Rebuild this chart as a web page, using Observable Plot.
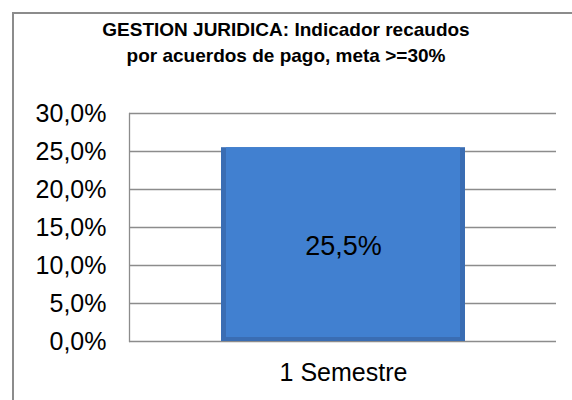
<!DOCTYPE html>
<html><head><meta charset="utf-8">
<script src="https://cdn.jsdelivr.net/npm/d3@7"></script>
<script src="https://cdn.jsdelivr.net/npm/@observablehq/plot@0.6"></script>
<style>
body{margin:0;background:#fff;font-family:"Liberation Sans",Arial,sans-serif;}
#wrap{position:relative;width:572px;height:400px;overflow:hidden;}
#frame{position:absolute;left:12px;top:12px;width:700px;height:500px;border-left:2px solid #8c8c8c;border-top:2px solid #8c8c8c;}
#title{position:relative;height:80px;box-sizing:border-box;padding-top:17px;text-align:center;font-weight:bold;font-size:19px;line-height:26px;color:#000;}
#chart{position:relative;}
</style></head><body>
<div id="wrap"><div id="frame"></div><div id="title">GESTION JURIDICA: Indicador recaudos<br>por acuerdos de pago, meta &gt;=30%</div><div id="chart"></div></div>
<script>
const categories = ["1 Semestre"];
const values = [0.255];
const labels = ["25,5%"];
const yTicks = [0, 0.05, 0.10, 0.15, 0.20, 0.25, 0.30];
const data = categories.map((c, i) => ({category: c, value: values[i], label: labels[i]}));
const fmt = d => d3.format(".1f")(d * 100).replace(".", ",") + "%";

const chart = Plot.plot({
  width: 572, height: 320,
  marginTop: 33, marginBottom: 59, marginLeft: 129, marginRight: 16,
  style: {fontFamily: "'Liberation Sans', Arial, sans-serif", fontSize: "25px", color: "#000", background: "transparent", overflow: "visible"},
  x: {domain: categories, padding: 0.273, label: null, tickSize: 0, tickPadding: 22},
  y: {domain: [0, 0.30], ticks: yTicks, tickFormat: fmt, label: null, tickSize: 0, tickPadding: 23},
  marks: [
    Plot.gridY(yTicks, {stroke: "#8c8c8c", strokeOpacity: 1, strokeWidth: 1.3}),
    Plot.frame({anchor: "left", stroke: "#8c8c8c", strokeWidth: 1.3}),
    Plot.barY(data, {x: "category", y: "value", fill: "#3a6db3", ariaLabel: "bar-outer"}),
    Plot.barY(data, {x: "category", y: "value", fill: "#4180d0", insetLeft: 5, insetRight: 5, insetBottom: 4, ariaLabel: "bar-inner"}),
    Plot.text(data, {x: "category", y: d => d.value / 2, text: "label", fontSize: 27, fill: "#000", dy: 2})
  ]
});

const svg = d3.select(chart);
const defs = svg.insert("defs", ":first-child");
function grad(id, vertical, stops) {
  const g = defs.append("linearGradient").attr("id", id)
    .attr("x1", 0).attr("y1", 0).attr("x2", vertical ? 0 : 1).attr("y2", vertical ? 1 : 0);
  stops.forEach(([o, c]) => g.append("stop").attr("offset", o).attr("stop-color", c));
}
grad("sides", false, [["0%", "#4a89d8"], ["2%", "#4685d4"], ["97.6%", "#3a70b8"], ["98%", "#30609f"], ["100%", "#2b568f"]]);
grad("body", true, [["0%", "#a9c9f1"], ["0.6%", "#5f9de8"], ["3%", "#5594e1"], ["3.2%", "#4586d7"], ["100%", "#3667ab"]]);
const f = defs.append("filter").attr("id", "shadow").attr("x", "-10%").attr("y", "-10%").attr("width", "130%").attr("height", "130%");
f.append("feDropShadow").attr("dx", 1.5).attr("dy", 1.5).attr("stdDeviation", 1.5).attr("flood-color", "#000").attr("flood-opacity", 0.35);

svg.selectAll("g[aria-label='bar-outer'] rect").attr("fill", "url(#sides)").attr("filter", "url(#shadow)");
svg.selectAll("g[aria-label='bar-inner'] rect").attr("fill", "url(#body)");

document.getElementById("chart").appendChild(chart);
</script>
</body></html>
